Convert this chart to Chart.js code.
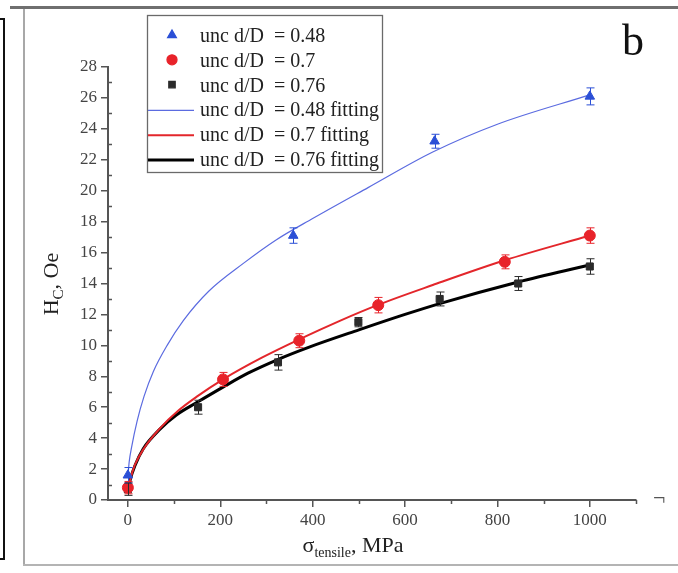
<!DOCTYPE html>
<html>
<head>
<meta charset="utf-8">
<script src="https://cdn.jsdelivr.net/npm/chart.js@4.4.1/dist/chart.umd.min.js"></script>
<style>
html,body{margin:0;padding:0;background:#fff;}
#wrap{position:relative;width:678px;height:573px;overflow:hidden;background:#fff;}
#wrap canvas{position:absolute;left:0;top:0;}
.rule{position:absolute;}
</style>
</head>
<body>
<div id="wrap">
  <canvas id="chart" width="678" height="573"></canvas>
  <div class="rule" style="left:10px;top:6px;width:668px;height:3px;background:#6f6f6f"></div>
  <div class="rule" style="left:23px;top:9px;width:2px;height:556px;background:#a8a8a8"></div>
  <div class="rule" style="left:23px;top:564px;width:655px;height:2px;background:#b4b4b4"></div>
  <div class="rule" style="left:-3px;top:18px;width:4px;height:538px;border:2px solid #111;"></div>
</div>
<script>
// axis ticks
const xTicks = [0, 200, 400, 600, 800, 1000];
const xMinorTicks = [100, 300, 500, 700, 900, 1100];
const yTicks = [0, 2, 4, 6, 8, 10, 12, 14, 16, 18, 20, 22, 24, 26, 28];
const yMinorTicks = [1, 3, 5, 7, 9, 11, 13, 15, 17, 19, 21, 23, 25, 27];

const seriesLabels = [
  'unc d/D  = 0.48', 'unc d/D  = 0.7', 'unc d/D  = 0.76',
  'unc d/D  = 0.48 fitting', 'unc d/D  = 0.7 fitting', 'unc d/D  = 0.76 fitting'
];

// measured points (MPa, Oe) and error bars
const x048 = [0, 358, 664, 1000];
const y048 = [1.6, 17.1, 23.2, 26.1];
const err048 = [0.5, 0.5, 0.45, 0.55];

const x07 = [0, 206, 371, 542, 816, 1000];
const y07 = [0.8, 7.8, 10.3, 12.6, 15.4, 17.1];
const err07 = [0.4, 0.45, 0.45, 0.5, 0.45, 0.5];

const x076 = [0, 152, 325, 499, 675, 845, 1000];
const y076 = [0.7, 6.0, 8.9, 11.5, 13.0, 14.0, 15.1];
const err076 = [0.4, 0.45, 0.5, 0.3, 0.45, 0.45, 0.5];

// fitting curves
const fitX048 = [0, 3, 8, 20, 35, 55, 85, 120, 175, 250, 320, 400, 520, 660, 800, 1000];
const fitY048 = [1.5, 2.5, 3.4, 5.1, 6.7, 8.3, 10.0, 11.6, 13.5, 15.3, 16.8, 18.2, 20.2, 22.5, 24.3, 26.2];

const fitX07 = [0, 5, 15, 35, 70, 110, 150, 206, 290, 372, 460, 540, 660, 816, 1000];
const fitY07 = [0.6, 1.3, 2.25, 3.35, 4.65, 5.8, 6.7, 7.8, 9.2, 10.4, 11.6, 12.6, 13.9, 15.5, 17.1];

const fitX076 = [0, 5, 15, 33, 70, 105, 149, 206, 260, 322, 394, 500, 600, 675, 845, 1000];
const fitY076 = [0.6, 1.3, 2.2, 3.3, 4.6, 5.5, 6.3, 7.3, 8.2, 9.05, 9.9, 11.0, 12.0, 12.7, 14.1, 15.2];

const SERIF = '"Liberation Serif", "DejaVu Serif", serif';
const pts = (xs, ys) => xs.map((x, i) => ({ x, y: ys[i] }));

function drawRuns(ctx, runs, cx, base) {
  let total = 0;
  runs.forEach(r => { ctx.font = r[1] + 'px ' + SERIF; total += ctx.measureText(r[0]).width; });
  let x = cx - total / 2;
  runs.forEach(r => {
    ctx.font = r[1] + 'px ' + SERIF;
    ctx.fillText(r[0], x, base + r[2]);
    x += ctx.measureText(r[0]).width;
  });
}

const decor = {
  id: 'decor',
  beforeDatasetsDraw(chart) {
    const ctx = chart.ctx, xs = chart.scales.x, ys = chart.scales.y;
    ctx.save();
    ctx.strokeStyle = '#555';
    ctx.lineWidth = 1.5;
    ctx.beginPath();
    xMinorTicks.forEach(v => {
      const px = Math.round(xs.getPixelForValue(v)) + 0.5;
      ctx.moveTo(px, ys.bottom); ctx.lineTo(px, ys.bottom + 4);
    });
    yMinorTicks.forEach(v => {
      const py = Math.round(ys.getPixelForValue(v)) + 0.5;
      ctx.moveTo(xs.left, py); ctx.lineTo(xs.left + 4, py);
    });
    ctx.stroke();
    ctx.restore();
  },
  afterDatasetsDraw(chart) {
    const ctx = chart.ctx, ys = chart.scales.y;
    ctx.save();
    chart.data.datasets.forEach((ds, i) => {
      if (!ds.errors) return;
      const meta = chart.getDatasetMeta(i);
      ctx.strokeStyle = ds.backgroundColor;
      ctx.lineWidth = 1;
      meta.data.forEach((el, j) => {
        const v = ds.data[j].y, e = ds.errors[j];
        const top = ys.getPixelForValue(v + e), bot = ys.getPixelForValue(v - e);
        const x = Math.round(el.x) + 0.5;
        ctx.beginPath();
        ctx.moveTo(x, top); ctx.lineTo(x, bot);
        ctx.moveTo(x - 4, top); ctx.lineTo(x + 4, top);
        ctx.moveTo(x - 4, bot); ctx.lineTo(x + 4, bot);
        ctx.stroke();
      });
    });
    ctx.restore();
  },
  afterDraw(chart) {
    const ctx = chart.ctx;
    ctx.save();
    // legend box
    ctx.fillStyle = '#fff';
    ctx.fillRect(147, 15, 236, 158);
    ctx.strokeStyle = '#6a6a6a';
    ctx.lineWidth = 1.3;
    ctx.strokeRect(147.5, 15.5, 235, 157);
    chart.data.datasets.forEach((ds, i) => {
      const y = 35 + i * 24.8;
      if (ds.showLine) {
        ctx.strokeStyle = ds.borderColor;
        ctx.lineWidth = ds.borderWidth;
        ctx.beginPath(); ctx.moveTo(148, y + 1); ctx.lineTo(194, y + 1); ctx.stroke();
      } else {
        ctx.fillStyle = ds.backgroundColor;
        ctx.strokeStyle = ds.backgroundColor;
        Chart.helpers.drawPoint(ctx, { pointStyle: ds.pointStyle, radius: ds.pointRadius - 0.5, rotation: 0, borderWidth: 1 }, 172, y);
      }
      ctx.fillStyle = '#222';
      ctx.font = '20px ' + SERIF;
      ctx.textBaseline = 'alphabetic';
      ctx.textAlign = 'left';
      ctx.fillText(ds.label, 200, y + 7);
    });
    // axis titles with subscripts
    ctx.fillStyle = '#222';
    drawRuns(ctx, [['σ', 22, 0], ['tensile', 14, 5], [', MPa', 22, 0]], 353, 552);
    ctx.translate(51, 284);
    ctx.rotate(-Math.PI / 2);
    drawRuns(ctx, [['H', 22, 0], ['C', 15, 5], [', Oe', 22, 0]], 0, 7);
    ctx.setTransform(1, 0, 0, 1, 0, 0);
    // panel letter
    ctx.font = '44px ' + SERIF;
    ctx.fillStyle = '#111';
    ctx.fillText('b', 622, 55);
    ctx.fillStyle = '#555';
    ctx.font = '22px ' + SERIF;
    ctx.fillText('¬', 653, 505);
    ctx.restore();
  }
};

const tickFont = { family: SERIF, size: 17 };

new Chart(document.getElementById('chart'), {
  type: 'scatter',
  data: {
    datasets: [
      { label: seriesLabels[0], data: pts(x048, y048), errors: err048, pointStyle: 'triangle', pointRadius: 5.5,
        backgroundColor: '#2b4fd6', borderColor: '#2b4fd6', showLine: false, order: 1 },
      { label: seriesLabels[1], data: pts(x07, y07), errors: err07, pointStyle: 'circle', pointRadius: 5.5,
        backgroundColor: '#e8232a', borderColor: '#e8232a', showLine: false, order: 1 },
      { label: seriesLabels[2], data: pts(x076, y076), errors: err076, pointStyle: 'rect', pointRadius: 5,
        backgroundColor: '#2b2b2b', borderColor: '#2b2b2b', showLine: false, order: 1 },
      { label: seriesLabels[3], data: pts(fitX048, fitY048), showLine: true, pointRadius: 0, borderWidth: 1.2,
        borderColor: '#5b6be0', cubicInterpolationMode: 'monotone', order: 2 },
      { label: seriesLabels[4], data: pts(fitX07, fitY07), showLine: true, pointRadius: 0, borderWidth: 2,
        borderColor: '#e3262b', cubicInterpolationMode: 'monotone', order: 2 },
      { label: seriesLabels[5], data: pts(fitX076, fitY076), showLine: true, pointRadius: 0, borderWidth: 3,
        borderColor: '#000', cubicInterpolationMode: 'monotone', order: 3 }
    ]
  },
  options: {
    responsive: false,
    animation: false,
    layout: { padding: { left: 0, top: 67, right: 42, bottom: 0 } },
    plugins: { legend: { display: false }, tooltip: { enabled: false } },
    scales: {
      x: {
        type: 'linear', min: -43, max: 1100,
        afterBuildTicks: s => { s.ticks = xTicks.map(v => ({ value: v })); },
        afterFit: s => { s.height = 73; },
        grid: { drawOnChartArea: false, tickLength: 7, color: '#555', lineWidth: 1.5 },
        border: { color: '#555', width: 2 },
        ticks: { font: tickFont, color: '#444', padding: 3, maxRotation: 0, callback: v => String(v) }
      },
      y: {
        type: 'linear', min: 0, max: 28,
        afterBuildTicks: s => { s.ticks = yTicks.map(v => ({ value: v })); },
        afterFit: s => { s.width = 108; },
        grid: { drawOnChartArea: false, tickLength: 7, color: '#555', lineWidth: 1.5 },
        border: { color: '#555', width: 2 },
        ticks: { font: tickFont, color: '#444', padding: 4, callback: v => String(v) }
      }
    }
  },
  plugins: [decor]
});
</script>
</body>
</html>
